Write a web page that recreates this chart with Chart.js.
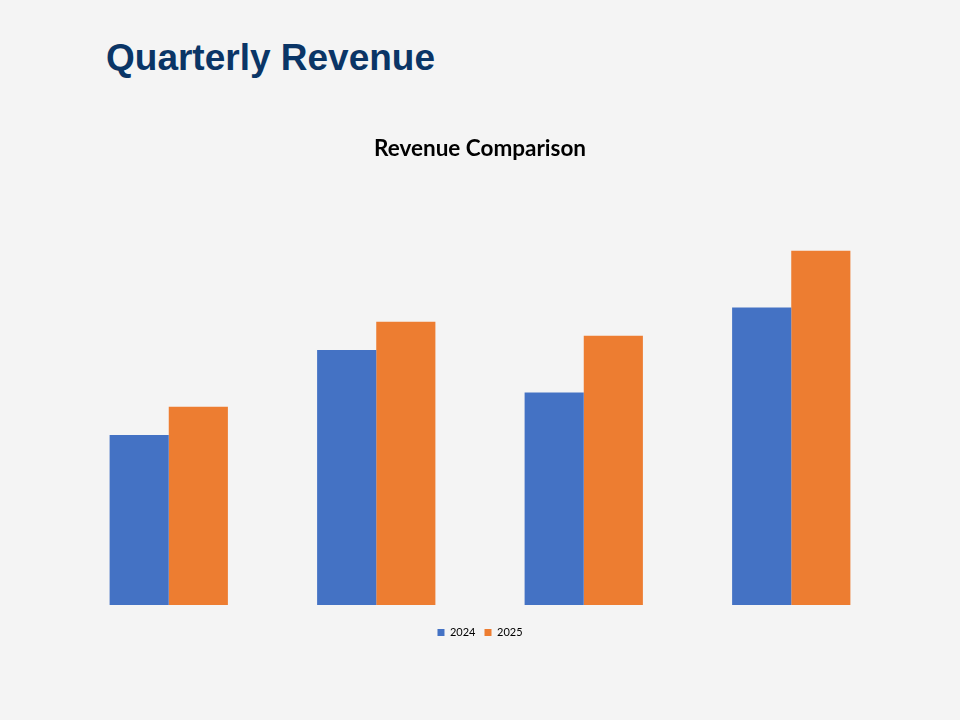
<!DOCTYPE html>
<html>
<head>
<meta charset="utf-8">
<script src="https://cdn.jsdelivr.net/npm/chart.js@4.4.1/dist/chart.umd.min.js"></script>
<style>
  html, body { margin: 0; padding: 0; background: #f4f4f4; }
  body { width: 960px; height: 720px; position: relative; overflow: hidden; }
  #title { position: absolute; left: 106px; top: 36px; margin: 0;
    font-family: "Liberation Sans", Arial, sans-serif; font-weight: bold;
    font-size: 37px; color: #0a3566; line-height: 44px; }
  #wrap { position: absolute; left: 0; top: 0; width: 960px; height: 720px; }
</style>
</head>
<body>
<h1 id="title">Quarterly Revenue</h1>
<div id="wrap"><canvas id="c"></canvas></div>
<script>
const categories = ["Q1", "Q2", "Q3", "Q4"];
const series2024 = [12, 18, 15, 21];
const series2025 = [14, 20, 19, 25];
const seriesNames = ["2024", "2025"];

new Chart(document.getElementById("c"), {
  type: "bar",
  data: {
    labels: categories,
    datasets: [
      { label: seriesNames[0], data: series2024, backgroundColor: "#4472C4", borderWidth: 0 },
      { label: seriesNames[1], data: series2025, backgroundColor: "#ED7D31", borderWidth: 0 }
    ]
  },
  options: {
    responsive: true,
    maintainAspectRatio: false,
    animation: false,
    layout: { padding: { left: 65, right: 65, top: 0, bottom: 72 } },
    datasets: { bar: { categoryPercentage: 0.57, barPercentage: 1.0 } },
    scales: {
      x: {
        display: true,
        grid: { display: false },
        border: { display: false },
        ticks: { display: false },
        afterFit: (scale) => { scale.height = 13; }
      },
      y: { display: false, min: 0, max: 30, grid: { display: false } }
    },
    plugins: {
      tooltip: { enabled: false },
      title: {
        display: true,
        text: "Revenue Comparison",
        color: "#000000",
        font: { family: "Lato", size: 22.5, weight: "bold" },
        padding: { top: 135, bottom: 18 }
      },
      legend: {
        position: "bottom",
        labels: {
          color: "#000000",
          font: { family: "Lato", size: 11 },
          boxWidth: 7,
          boxHeight: 7,
          padding: 9
        }
      }
    }
  }
});
</script>
</body>
</html>
